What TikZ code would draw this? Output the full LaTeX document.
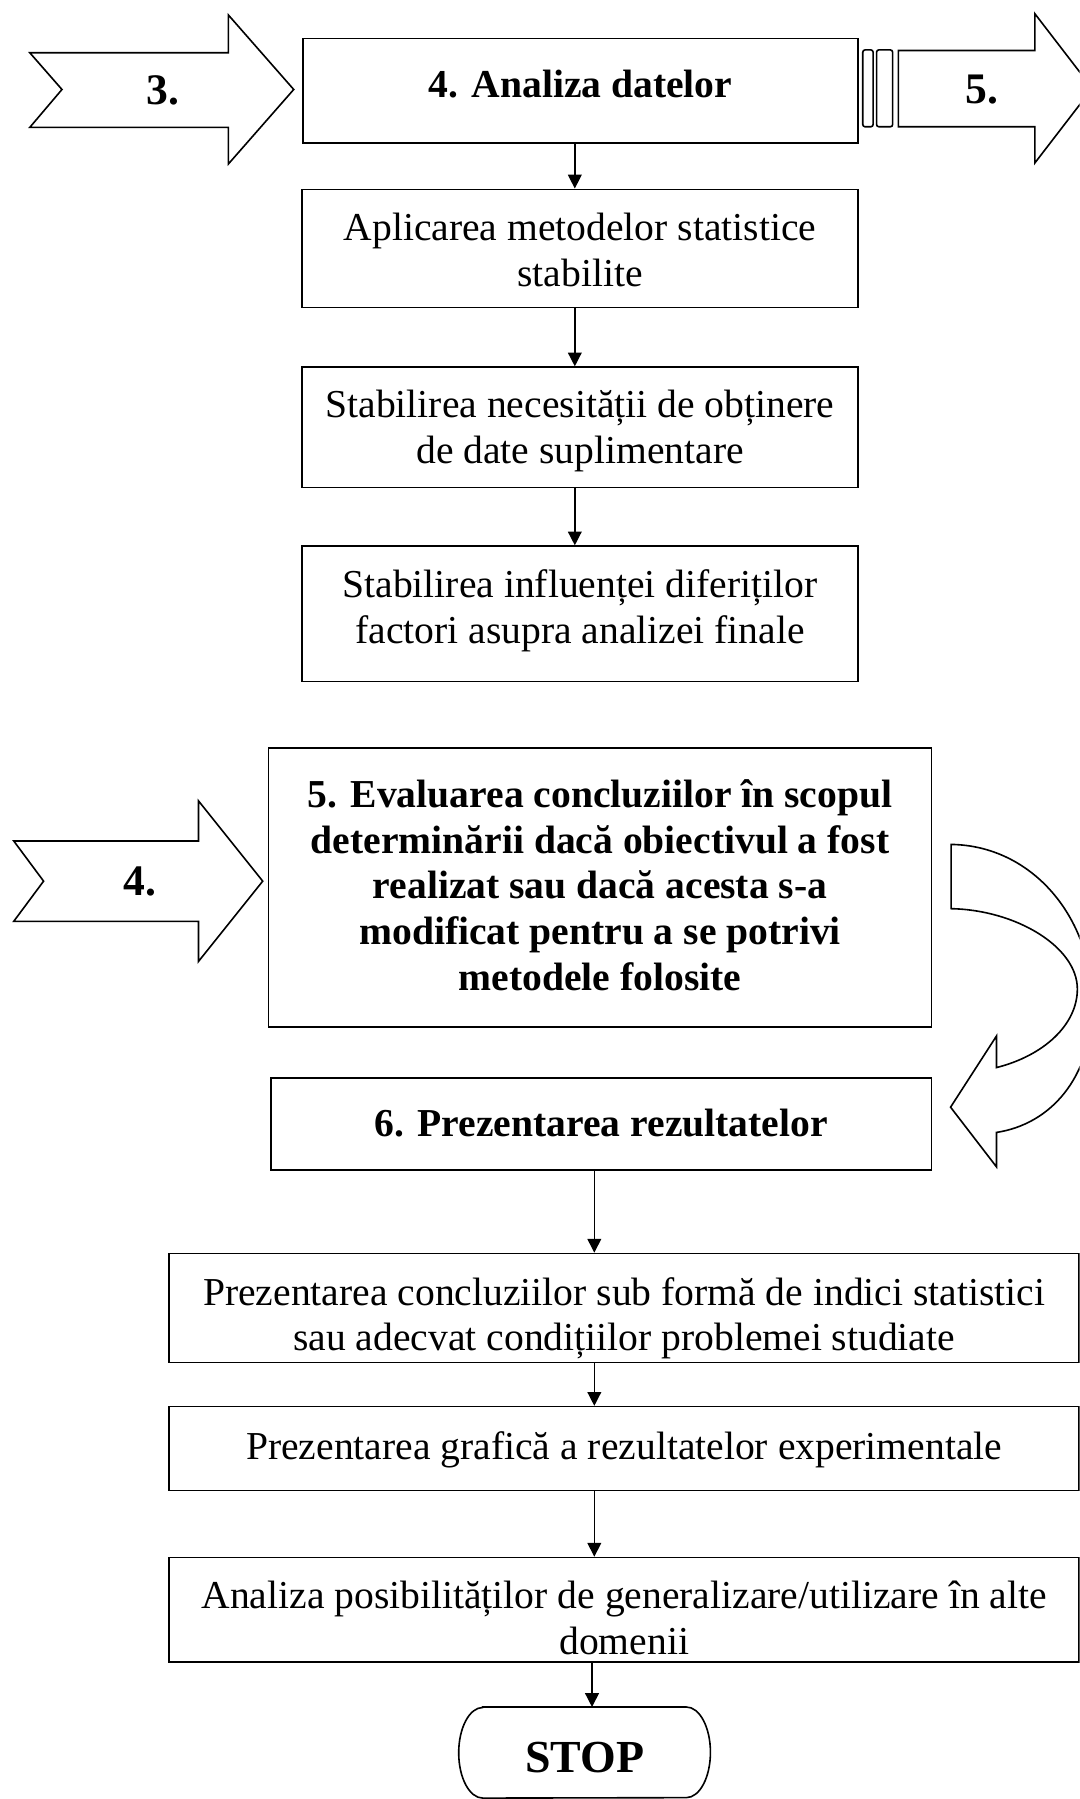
\documentclass[tikz,border=0pt]{standalone}
\usepackage{fontspec}
\setmainfont{Liberation Serif}
\usetikzlibrary{arrows.meta,calc}

\begin{document}
\begin{tikzpicture}[x=1pt,y=-1pt,
  ln/.style={line width=1.4pt},
  frame/.style={draw, ln, inner sep=0pt},
  txt/.style={inner sep=0pt, align=center, font=\fontsize{34.5}{40}\selectfont},
  txtb/.style={txt, font=\fontsize{34.5}{40}\selectfont\bfseries},
  lbl/.style={font=\fontsize{38}{40}\selectfont\bfseries, inner sep=0pt},
  arr/.style={line width=1.2pt, -{Triangle[length=12pt,width=12pt]}},
  blockarrow/.style={ln, line join=miter, fill=white}
]
% page frame
\path[use as bounding box] (0,0) rectangle (941,1568);
\clip (0,0) rectangle (941,1568);

% spines for the vertical connectors
\coordinate (s1) at (501,0);
\coordinate (s2) at (518,0);
\coordinate (s3) at (516,0);

% upper column
\node[frame, minimum width=484pt, minimum height=91pt] (b4) at (506,79) {};
\node[txtb] (b4t) at ($(b4.center)+(0,-6)$) {4. Analiza datelor};
\node[frame, minimum width=485pt, minimum height=103pt] (bA) at (505.5,216.5) {};
\node[txt] (bAt) at ($(bA.center)+(0,1)$) {Aplicarea metodelor statistice\\stabilite};
\node[frame, minimum width=485pt, minimum height=105pt] (bB) at (505.5,372.5) {};
\node[txt] (bBt) at ($(bB.center)+(0,3)$) {Stabilirea necesității de obținere\\de date suplimentare};
\node[frame, minimum width=485pt, minimum height=118pt] (bC) at (505.5,535) {};
\node[txt] (bCt) at ($(bC.center)+(0,-3)$) {Stabilirea influenței diferiților\\factori asupra analizei finale};

% middle blocks
\node[frame, minimum width=578pt, minimum height=243pt] (b5) at (523,773.5) {};
\node[txtb] (b5t) at ($(b5.center)+(0,-2)$)
  {5. Evaluarea concluziilor în scopul\\determinării dacă obiectivul a fost\\realizat sau dacă acesta s-a\\modificat pentru a se potrivi\\metodele folosite};
\node[frame, minimum width=576pt, minimum height=80pt] (b6) at (524,979.5) {};
\node[txtb] (b6t) at ($(b6.center)+(0,-1)$) {6. Prezentarea rezultatelor};

% lower column
\node[frame, minimum width=793pt, minimum height=95pt] (c1) at (544,1140) {};
\node[txt, font=\fontsize{34.5}{38.5}\selectfont] (c1t) at ($(c1.center)+(0,9)$)
  {Prezentarea concluziilor sub formă de indici statistici\\sau adecvat condițiilor problemei studiate};
\node[frame, minimum width=793pt, minimum height=73pt] (c2) at (544,1262.5) {};
\node[txt] (c2t) at ($(c2.center)+(0,1)$) {Prezentarea grafică a rezultatelor experimentale};
\node[frame, minimum width=793pt, minimum height=91pt] (c3) at (544,1403) {};
\node[txt] (c3t) at ($(c3.center)+(0,7)$)
  {Analiza posibilităților de generalizare/utilizare în alte\\domenii};

% terminal
\node[minimum width=219pt, minimum height=79pt, inner sep=0pt] (stop) at (509.5,1527.5) {};
\node[font=\fontsize{40}{40}\selectfont\bfseries, inner sep=0pt] (stopt)
  at ($(stop.center)+(0,4)$) {STOP};
\draw[ln] ($(stop.north west)+(21,0)$) -- ($(stop.north east)+(-21,0)$)
  arc[start angle=90, end angle=-90, x radius=21pt, y radius=39.5pt]
  -- ($(stop.south west)+(21,0)$)
  arc[start angle=270, end angle=90, x radius=21pt, y radius=39.5pt] -- cycle;

% connectors
\draw[arr] (b4.south -| s1) -- (bA.north -| s1);
\draw[arr] (bA.south -| s1) -- (bB.north -| s1);
\draw[arr] (bB.south -| s1) -- (bC.north -| s1);
\draw[arr] (b6.south -| s2) -- (c1.north -| s2);
\draw[arr] (c1.south -| s2) -- (c2.north -| s2);
\draw[arr] (c2.south -| s2) -- (c3.north -| s2);
\draw[arr] (c3.south -| s3) -- (stop.north -| s3);

% incoming block arrow "3."
\draw[blockarrow] (26,46) -- (199,46) -- (199,13) -- (256,78) -- (199,143)
  -- (199,111) -- (26,111) -- (54,78) -- cycle;
\node[lbl] (l3) at (142,79) {3.};

% joint pieces and outgoing block arrow "5."
\draw[ln, rounded corners=2pt] (752,43.5) rectangle (761,110.5);
\draw[ln, rounded corners=2pt] (764,43.5) rectangle (778,110.5);
\draw[blockarrow] (783,44) -- (902,44) -- (902,12) -- (952,77) -- (902,142)
  -- (902,110.5) -- (783,110.5) -- cycle;
\node[lbl] (l5) at (856,78) {5.};

% incoming block arrow "4."
\draw[blockarrow] (12,733) -- (173,733) -- (173,698) -- (229,768) -- (173,838)
  -- (173,803) -- (12,803) -- (38,768) -- cycle;
\node[lbl] (l4) at (122,768) {4.};

% curved return arrow
\draw[blockarrow] (829,736)
  .. controls (900,737) and (952,800) .. (952,875)
  .. controls (952,940) and (915,980) .. (868.5,987)
  -- (868.5,1017) -- (828.5,965) -- (868.5,903) -- (868.5,930.5)
  .. controls (910,920) and (939,893) .. (939,862)
  .. controls (939,825) and (885,793) .. (829,792) -- cycle;
\end{tikzpicture}
\end{document}
